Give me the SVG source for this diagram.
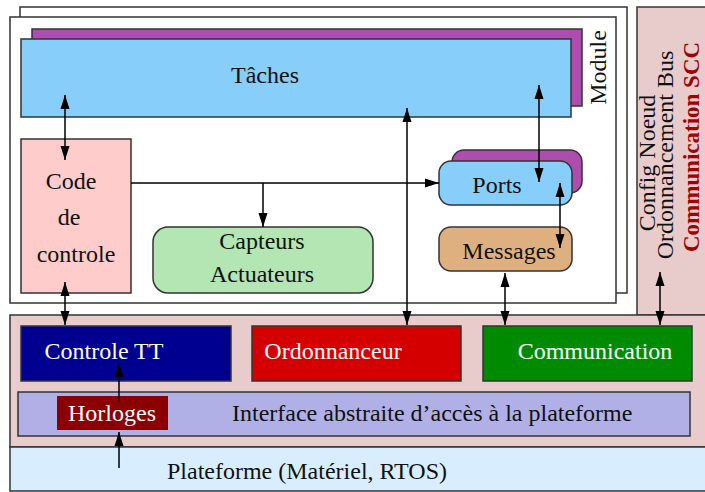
<svg xmlns="http://www.w3.org/2000/svg" width="705" height="492" viewBox="0 0 705 492" font-family="'Liberation Serif', 'Times New Roman', Times, serif">
<style>
text{font-family:"Liberation Serif",Tinos,"Times New Roman",Times,serif;font-size:24px;fill:#111}
.box{stroke:#333;stroke-width:1.5}
.w{fill:#fff}
.c{text-anchor:middle}
.con{stroke:#000;stroke-width:1.5;fill:none}
.a2{marker-start:url(#ah);marker-end:url(#ah)}
.a1{marker-end:url(#ah)}
</style>
<defs>
<marker id="ah" markerUnits="userSpaceOnUse" markerWidth="15" markerHeight="10" refX="14" refY="5" orient="auto-start-reverse" viewBox="0 0 15 10">
<path d="M0,0.5 L14,5 L0,9.5 z" fill="#000"/>
</marker>
</defs>
<g id="module-back"><rect class="box" x="20" y="7" width="607" height="286" fill="#fff"/></g>
<g id="module"><rect class="box" x="10" y="17" width="606" height="286" fill="#fff"/>
<text x="606" y="67.5" class="c" transform="rotate(-90 606 67.5)">Module</text></g>
<g id="config"><rect class="box" x="637" y="7" width="70" height="308" fill="#e8cccc"/>
<text x="655" y="163" class="c" transform="rotate(-90 655 163)">Config Noeud</text>
<text x="673" y="155" class="c" transform="rotate(-90 673 155)">Ordonnancement Bus</text>
<text x="699" y="147" class="c" transform="rotate(-90 699 147)" style="font-weight:bold;fill:#a00000;font-size:23px">Communication SCC</text></g>
<g id="taches"><rect class="box" x="32" y="29" width="550" height="77" fill="#ad4dad"/>
<rect class="box" x="21" y="39" width="550" height="78" fill="#87cefa"/>
<text x="265" y="83" class="c">Tâches</text></g>
<g id="code"><rect class="box" x="21" y="139" width="110" height="154" fill="#ffcccc"/>
<text x="71" y="189" class="c">Code</text>
<text x="69" y="225" class="c">de</text>
<text x="76" y="262" class="c">controle</text></g>
<g id="capteurs"><rect class="box" x="153" y="227" width="220" height="66" rx="15" fill="#b3e6b3"/>
<text x="262" y="249" class="c">Capteurs</text>
<text x="262" y="282" class="c">Actuateurs</text></g>
<g id="ports"><rect class="box" x="452" y="150" width="130" height="43" rx="12" fill="#ad4dad"/>
<rect class="box" x="439" y="161" width="133" height="44" rx="12" fill="#87cefa"/>
<text x="497" y="193" class="c">Ports</text></g>
<g id="messages"><rect class="box" x="439" y="227" width="133" height="44" rx="12" fill="#deb080"/>
<text x="509" y="259" class="c">Messages</text></g>
<g id="platform-panel"><rect class="box" x="10" y="315" width="697" height="132" fill="#e8cccc"/></g>
<g id="controle-tt"><rect class="box" x="21" y="326" width="210" height="55" fill="#000090"/>
<text x="104" y="359" class="c w">Controle TT</text></g>
<g id="ordonnanceur"><rect class="box" x="252" y="326" width="209" height="55" fill="#d40000"/>
<text x="333" y="359" class="c w">Ordonnanceur</text></g>
<g id="communication"><rect class="box" x="483" y="326" width="209" height="55" fill="#008a00"/>
<text x="595" y="359" class="c w">Communication</text></g>
<g id="interface"><rect class="box" x="18" y="392" width="672" height="44" fill="#b0b0e6"/>
<text x="232" y="421">Interface abstraite d’accès à la plateforme</text></g>
<g id="horloges"><rect x="57" y="396" width="111" height="34" fill="#8b0000"/>
<text x="112" y="421" class="c w">Horloges</text></g>
<g id="plateforme"><rect class="box" x="10" y="447" width="697" height="44" fill="#d8eeff"/>
<text x="307" y="479" class="c">Plateforme (Matériel, RTOS)</text></g>
<g id="connectors">
<line class="con a2" x1="65" y1="95" x2="65" y2="160"/>
<line class="con a2" x1="65" y1="282" x2="65" y2="325"/>
<polyline class="con a1" points="131,183 439,183"/>
<line class="con a1" x1="263" y1="183" x2="263" y2="227"/>
<line class="con a2" x1="407" y1="108" x2="407" y2="325"/>
<line class="con a2" x1="539" y1="85" x2="539" y2="182"/>
<line class="con a2" x1="560" y1="183" x2="560" y2="248"/>
<line class="con a2" x1="505" y1="273" x2="505" y2="325"/>
<line class="con a2" x1="660" y1="272" x2="660" y2="325"/>
<line class="con a1" x1="119" y1="402" x2="119" y2="363"/>
<line class="con a1" x1="119" y1="468" x2="119" y2="432"/>
</g>
</svg>
